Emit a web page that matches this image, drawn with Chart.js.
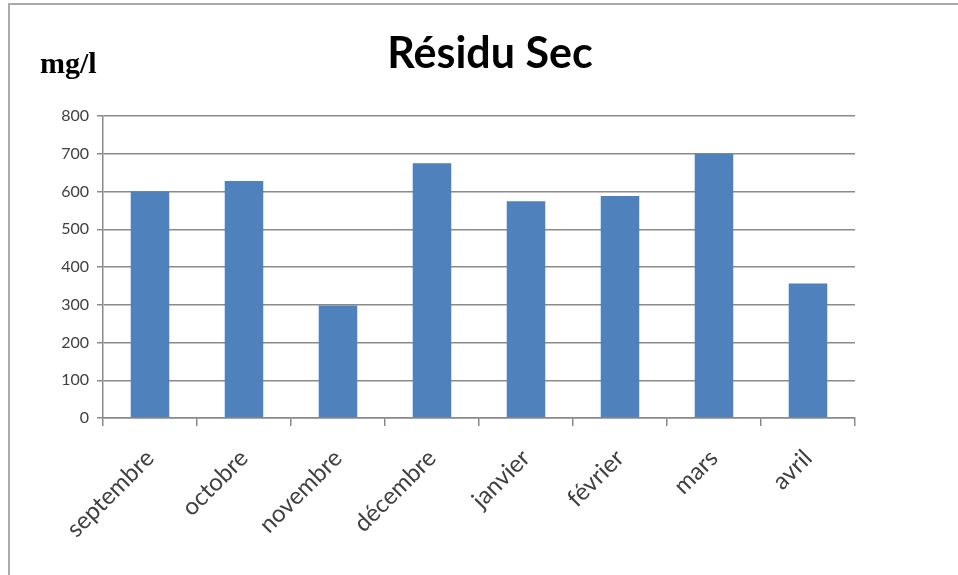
<!DOCTYPE html>
<html>
<head>
<meta charset="utf-8">
<script src="https://cdn.jsdelivr.net/npm/chart.js@4.4.1/dist/chart.umd.min.js"></script>
<style>
  html, body { margin: 0; padding: 0; background: #ffffff; }
  #wrap { position: relative; width: 958px; height: 575px; overflow: hidden; }
  #frame { position: absolute; left: 8px; top: 3px; width: 980px; height: 600px;
           border-top: 2px solid #ababab; border-left: 2px solid #ababab; }
  #c { position: absolute; left: 0; top: 0; }
</style>
</head>
<body>
<div id="wrap">
  <div id="frame"></div>
  <canvas id="c" width="958" height="575"></canvas>
</div>
<script>
const categories = ["septembre", "octobre", "novembre", "décembre", "janvier", "février", "mars", "avril"];
const residuSec = [600, 628, 298, 675, 574, 588, 700, 356];
const yTicks = [0, 100, 200, 300, 400, 500, 600, 700, 800];
const chartTitle = "Résidu Sec";
const unitLabel = "mg/l";

const textPlugin = {
  id: 'titleAndUnit',
  afterDraw(chart) {
    const ctx = chart.ctx;
    ctx.save();
    ctx.fillStyle = '#000000';
    ctx.textBaseline = 'alphabetic';
    ctx.font = 'bold 43px Lato, "Open Sans", sans-serif';
    ctx.textAlign = 'center';
    ctx.fillText(chartTitle, 490, 68);
    ctx.font = 'bold 30px "Liberation Serif", "Times New Roman", serif';
    ctx.textAlign = 'left';
    ctx.fillText(unitLabel, 40, 73);
    ctx.restore();
  }
};

new Chart(document.getElementById('c'), {
  type: 'bar',
  data: {
    labels: categories,
    datasets: [{
      label: chartTitle,
      data: residuSec,
      backgroundColor: '#4F81BD',
      borderWidth: 0,
      barPercentage: 0.41,
      categoryPercentage: 1.0
    }]
  },
  options: {
    responsive: false,
    animation: false,
    devicePixelRatio: 1,
    layout: { padding: { left: 0, right: 103, top: 116, bottom: 0 } },
    plugins: {
      legend: { display: false },
      tooltip: { enabled: false },
      title: { display: false }
    },
    scales: {
      x: {
        grid: {
          display: true,
          offset: true,
          drawOnChartArea: false,
          drawTicks: true,
          tickLength: 8,
          color: '#8a8a8a',
          lineWidth: 1.5
        },
        border: { display: true, color: '#8a8a8a', width: 1.5 },
        ticks: {
          color: '#404040',
          font: { family: 'Lato', size: 24 },
          minRotation: 45,
          maxRotation: 45,
          padding: 18,
          autoSkip: false
        },
        afterFit(scale) { scale.height = 157; }
      },
      y: {
        min: 0,
        max: 800,
        afterBuildTicks(scale) { scale.ticks = yTicks.map(v => ({ value: v })); },
        grid: {
          color: '#8a8a8a',
          lineWidth: 1.5,
          drawTicks: true,
          tickLength: 6
        },
        border: { display: true, color: '#8a8a8a', width: 1.5 },
        ticks: {
          color: '#404040',
          font: { family: 'Lato', size: 16 },
          padding: 8
        },
        afterFit(scale) { scale.width = 103; }
      }
    }
  },
  plugins: [textPlugin]
});
</script>
</body>
</html>
